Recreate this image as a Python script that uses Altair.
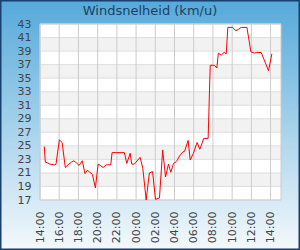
import altair as alt
import pandas as pd

# Wind speed readings (km/u), times from 14:00 day 1 to 14:08 day 2
times = ["14:27","14:33","14:46","15:01","15:32","15:40","16:01","16:13","16:18","16:38",
         "16:55","17:16","17:31","17:47","18:04","18:24","18:41","18:56","19:11","19:27",
         "19:46","20:03","20:17","20:34","20:54","21:22","21:30","22:47","23:02","23:23",
         "23:33","23:49","00:25","00:42","01:03","01:23","01:43","02:01","02:26","02:46",
         "03:04","03:22","03:37","03:54","04:12","04:32","04:52","05:03","05:25","05:38",
         "05:58","06:21","06:38","06:51","07:02","07:30","07:43","08:09","08:24","08:34",
         "08:51","09:10","09:23","09:33","10:02","10:23","10:39","10:56","11:32","11:57",
         "12:18","12:34","13:01","13:20","13:47","14:08"]
values = [24.9,22.6,22.5,22.3,22.2,22.3,25.9,25.6,25.5,21.8,
          22.2,22.6,22.8,22.5,22.1,22.8,20.9,21.4,21.1,20.8,
          18.8,22.3,22.1,21.8,22.2,22.2,24.0,24.0,22.4,23.9,
          22.3,22.3,23.3,21.7,17.0,21.0,21.2,17.1,17.3,24.4,
          20.4,22.3,21.1,22.4,22.7,23.5,24.1,24.2,25.8,22.9,
          23.9,25.5,24.5,25.3,26.1,26.1,36.9,36.9,36.5,38.7,
          38.4,38.8,38.6,42.5,42.5,42.0,42.2,42.5,42.5,38.9,
          38.7,38.8,38.8,37.7,36.1,38.6]
y_ticks = list(range(17, 44, 2))
band_lo = [19, 23, 27, 31, 35, 39]
tick_hours = [14, 16, 18, 20, 22, 0, 2, 4, 6, 8, 10, 12, 14]
title_text = "Windsnelheid (km/u)"


def to_stamps(hhmm_list):
    out, day, last = [], 1, -1
    for s in hhmm_list:
        h, m = map(int, s.split(":"))
        mins = h * 60 + m
        if mins < last:
            day = 2
        last = mins
        out.append((day, h, m))
    return out


df = pd.DataFrame({"t": [f"2024-01-0{d}T{h:02d}:{m:02d}:00" for d, h, m in to_stamps(times)],
                   "v": values})
tick_st = to_stamps([f"{h:02d}:00" for h in tick_hours])
tick_dt = [alt.DateTime(year=2024, month=1, date=d, hours=h) for d, h, m in tick_st]
tick_df = pd.DataFrame({"t": [f"2024-01-0{d}T{h:02d}:00:00" for d, h, m in tick_st]})

W, H = 241, 176
xscale = alt.Scale(domain=[alt.DateTime(year=2024, month=1, date=1, hours=14),
                           alt.DateTime(year=2024, month=1, date=2, hours=15, minutes=5)])
yscale = alt.Scale(domain=[17, 43], nice=False, zero=False)

xaxis = alt.Axis(values=tick_dt, format="%H:%M", labelAngle=270, labelPadding=11,
                 ticks=False, domain=False, grid=False, labelFontSize=11,
                 labelColor="#444444", labelFont="DejaVu Sans", zindex=1,
                 labelOverlap=False, title=None)
yaxis = alt.Axis(values=y_ticks, ticks=False, domain=False, grid=False,
                 labelPadding=9, labelFontSize=11, labelColor="#444444",
                 labelFont="DejaVu Sans", zindex=1, labelOverlap=False, title=None)

one = pd.DataFrame({"a": [0]})
grad = alt.LinearGradient(gradient="linear",
                          stops=[alt.GradientStop(color="#55a9da", offset=0),
                                 alt.GradientStop(color="#f4f9fc", offset=1)],
                          x1=0, x2=0, y1=0, y2=1)
bg = alt.Chart(one).mark_rect(color=grad, stroke="#17406e", strokeWidth=1.5).encode(
    x=alt.value(-39.25), x2=alt.value(259.25), y=alt.value(-23.25), y2=alt.value(225.25))

title = alt.Chart(one).mark_text(text=title_text, font="DejaVu Sans", fontSize=13,
                                 color="#1d3f63", align="center", baseline="alphabetic").encode(
    x=alt.value(110), y=alt.value(-9.5))

plotbg = alt.Chart(one).mark_rect(fill="white").encode(
    x=alt.value(0), x2=alt.value(W), y=alt.value(0), y2=alt.value(H))

bands = alt.Chart(pd.DataFrame({"lo": band_lo, "hi": [b + 2 for b in band_lo]})).mark_rect(
    fill="#f2f2f2").encode(
    y=alt.Y("lo:Q", scale=yscale, axis=yaxis), y2="hi:Q",
    x=alt.value(0), x2=alt.value(W))

hrules = alt.Chart(pd.DataFrame({"v": y_ticks})).mark_rule(color="#dedede", strokeWidth=1).encode(
    y=alt.Y("v:Q", scale=yscale, axis=yaxis), x=alt.value(0), x2=alt.value(W))

vrules = alt.Chart(tick_df).mark_rule(color="#cccccc", strokeWidth=1).encode(
    x=alt.X("t:T", scale=xscale, axis=xaxis), y=alt.value(0), y2=alt.value(H))

border = alt.Chart(one).mark_rect(fill=None, stroke="#cccccc", strokeWidth=1).encode(
    x=alt.value(0), x2=alt.value(W), y=alt.value(0), y2=alt.value(H))

line = alt.Chart(df).mark_line(color="#ff0000", strokeWidth=1).encode(
    x=alt.X("t:T", scale=xscale, axis=xaxis),
    y=alt.Y("v:Q", scale=yscale, axis=yaxis))

chart = alt.layer(bg, title, plotbg, bands, hrules, vrules, border, line).properties(
    width=W, height=H,
    autosize=alt.AutoSizeParams(type="none"),
    padding={"left": 40, "top": 24, "right": 19, "bottom": 50},
).configure_view(stroke=None).configure(background="white")

chart.save("out.html", embed_options={"renderer": "svg", "actions": False})
